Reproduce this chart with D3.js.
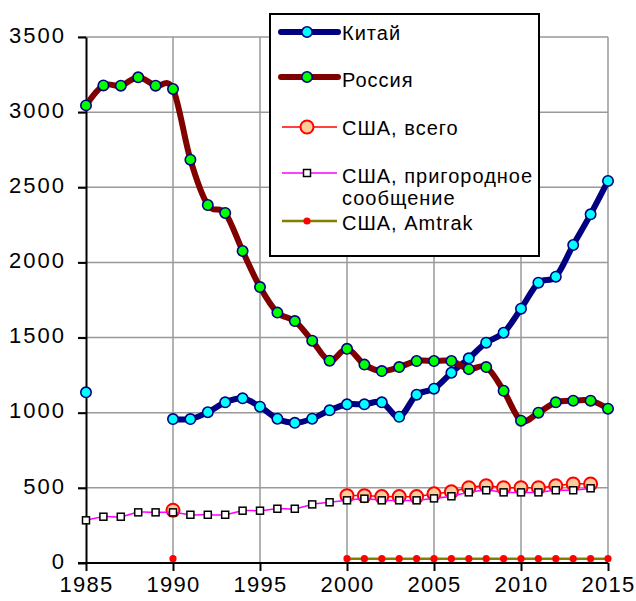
<!DOCTYPE html>
<html>
<head>
<meta charset="utf-8">
<script src="https://cdn.jsdelivr.net/npm/d3@7"></script>
<style>
  body { margin: 0; background: #fff; }
  svg { display: block; font-family: "Liberation Sans", Arial, sans-serif; }
</style>
</head>
<body>
<svg id="chart" width="636" height="601"></svg>
<script>
// --- data ---
const years = [1985, 1986, 1987, 1988, 1989, 1990, 1991, 1992, 1993, 1994,
               1995, 1996, 1997, 1998, 1999, 2000, 2001, 2002, 2003, 2004,
               2005, 2006, 2007, 2008, 2009, 2010, 2011, 2012, 2013, 2014, 2015];

const china = [1136, null, null, null, null, 958, 958, 1003, 1069, 1096,
               1040, 960, 933, 960, 1016, 1056, 1056, 1069, 973, 1120,
               1160, 1266, 1362, 1466, 1532, 1692, 1865, 1905, 2116, 2320, 2542];

const russia = [3045, 3178, 3176, 3232, 3176, 3154, 2684, 2382, 2329, 2076,
                1836, 1666, 1610, 1479, 1346, 1425, 1320, 1277, 1304, 1344,
                1344, 1344, 1290, 1304, 1146, 947, 1000, 1069, 1080, 1080, 1027];

const usaTotal = [null, null, null, null, null, 351, null, null, null, null,
                  null, null, null, null, null, 448, 448, 442, 442, 442,
                  460, 474, 501, 514, 501, 501, 501, 514, 526, 526, null];

const usaCommuter = [284, 308, 308, 337, 337, 337, 321, 321, 321, 348,
                     348, 361, 361, 390, 404, 417, 428, 417, 417, 417,
                     430, 444, 470, 484, 470, 470, 470, 484, 484, 497, null];

const usaAmtrak = [null, null, null, null, null, 29, null, null, null, null,
                   null, null, null, null, null, 29, 29, 29, 29, 29,
                   29, 29, 29, 29, 29, 29, 29, 29, 29, 29, 29];

const yTicks = [0, 500, 1000, 1500, 2000, 2500, 3000, 3500];
const xTicks = [1985, 1990, 1995, 2000, 2005, 2010, 2015];

const legendLabels = ['Китай', 'Россия', 'США, всего', 'США, пригородное', 'США, Amtrak'];

// --- layout ---
const svg = d3.select('#chart');
const x = d3.scaleLinear().domain([1985, 2015]).range([86, 608]);
const y = d3.scaleLinear().domain([0, 3500]).range([563, 37]);

// grid
const grid = svg.append('g').attr('stroke', '#999').attr('stroke-width', 1.5);
grid.selectAll('line.h')
    .data(yTicks.filter(d => d > 0))
    .join('line')
    .attr('x1', 78).attr('x2', x(2015))
    .attr('y1', d => y(d)).attr('y2', d => y(d));
grid.selectAll('line.v')
    .data(xTicks.filter(d => d > 1985))
    .join('line')
    .attr('x1', d => x(d)).attr('x2', d => x(d))
    .attr('y1', y(3500)).attr('y2', y(0));

// axes
const yAxis = svg.append('g')
    .attr('transform', `translate(${x(1985)},0)`)
    .call(d3.axisLeft(y).tickValues(yTicks).tickFormat(d3.format('d'))
        .tickSize(8).tickPadding(12).tickSizeOuter(0));
const xAxis = svg.append('g')
    .attr('transform', `translate(0,${y(0)})`)
    .call(d3.axisBottom(x).tickValues(xTicks).tickFormat(d3.format('d'))
        .tickSize(8).tickPadding(5).tickSizeOuter(0));
[yAxis, xAxis].forEach(a => {
    a.select('.domain').attr('stroke', '#000').attr('stroke-width', 2);
    a.selectAll('.tick line').attr('stroke', '#000').attr('stroke-width', 2);
    a.selectAll('.tick text').attr('fill', '#000')
        .style('font-size', '22px')
        .style('font-family', '"Liberation Sans", Arial, sans-serif');
});
yAxis.selectAll('.tick text').attr('dy', '0.24em').style('letter-spacing', '2px');
xAxis.selectAll('.tick text').style('letter-spacing', '1.3px');
xAxis.select('.domain').attr('d', `M78,0H${x(2015)}`);

// series
const curve = d3.curveCardinal.tension(0);
const series = [
    { name: 'china', values: china, color: '#000080', width: 6, marker: 'circle', r: 5.2, fill: '#00ffff', stroke: '#000080', sw: 1.6 },
    { name: 'russia', values: russia, color: '#800000', width: 6, marker: 'circle', r: 5.2, fill: '#00ff00', stroke: '#000080', sw: 1.6 },
    { name: 'total', values: usaTotal, color: '#ff0000', width: 1.5, marker: 'circle', r: 6.5, fill: '#ffcc99', stroke: '#ff0000', sw: 2 },
    { name: 'commuter', values: usaCommuter, color: '#ff00ff', width: 1.5, marker: 'square', r: 3.5, fill: '#ffffff', stroke: '#000000', sw: 1.5 },
    { name: 'amtrak', values: usaAmtrak, color: '#808000', width: 2.5, marker: 'circle', r: 3.6, fill: '#ff0000', stroke: 'none', sw: 0 }
];

series.forEach(s => {
    const pts = years.map((yr, i) => ({ yr, v: s.values[i] }));
    const line = d3.line()
        .defined(d => d.v != null)
        .x(d => x(d.yr)).y(d => y(d.v))
        .curve(curve);
    const g = svg.append('g').attr('class', s.name);
    g.append('path')
        .attr('d', line(pts))
        .attr('fill', 'none')
        .attr('stroke', s.color)
        .attr('stroke-width', s.width)
        .attr('stroke-linejoin', 'round')
        .attr('stroke-linecap', 'round');
    const valid = pts.filter(d => d.v != null);
    if (s.marker === 'circle') {
        g.selectAll('circle').data(valid).join('circle')
            .attr('cx', d => x(d.yr)).attr('cy', d => y(d.v)).attr('r', s.r)
            .attr('fill', s.fill).attr('stroke', s.stroke).attr('stroke-width', s.sw);
    } else {
        g.selectAll('rect').data(valid).join('rect')
            .attr('x', d => x(d.yr) - s.r).attr('y', d => y(d.v) - s.r)
            .attr('width', s.r * 2).attr('height', s.r * 2)
            .attr('fill', s.fill).attr('stroke', s.stroke).attr('stroke-width', s.sw);
    }
});

// legend
const legend = svg.append('g');
legend.append('rect')
    .attr('x', 270).attr('y', 14).attr('width', 269).attr('height', 242)
    .attr('fill', '#fff').attr('stroke', '#000').attr('stroke-width', 2);

const rowY = [32, 77, 127, 173, 221];
const textY = [39.5, 87, 135, 183, 230];
series.forEach((s, i) => {
    const ly = rowY[i];
    const thick = s.width > 3;
    legend.append('line')
        .attr('x1', thick ? 281 : 282).attr('x2', thick ? 338 : 337)
        .attr('y1', ly).attr('y2', ly)
        .attr('stroke', s.color).attr('stroke-width', s.width)
        .attr('stroke-linecap', thick ? 'round' : 'butt');
    if (s.marker === 'circle') {
        legend.append('circle').attr('cx', 307).attr('cy', ly).attr('r', s.r)
            .attr('fill', s.fill).attr('stroke', s.stroke).attr('stroke-width', s.sw);
    } else {
        legend.append('rect').attr('x', 307 - s.r).attr('y', ly - s.r)
            .attr('width', s.r * 2).attr('height', s.r * 2)
            .attr('fill', s.fill).attr('stroke', s.stroke).attr('stroke-width', s.sw);
    }
    legend.append('text')
        .attr('x', 342).attr('y', textY[i])
        .style('font-size', '20px')
        .style('letter-spacing', '1px')
        .text(legendLabels[i]);
});
legend.append('text')
    .attr('x', 342).attr('y', 205)
    .style('font-size', '20px')
    .style('letter-spacing', '1px')
    .text('сообщение');
</script>
</body>
</html>
